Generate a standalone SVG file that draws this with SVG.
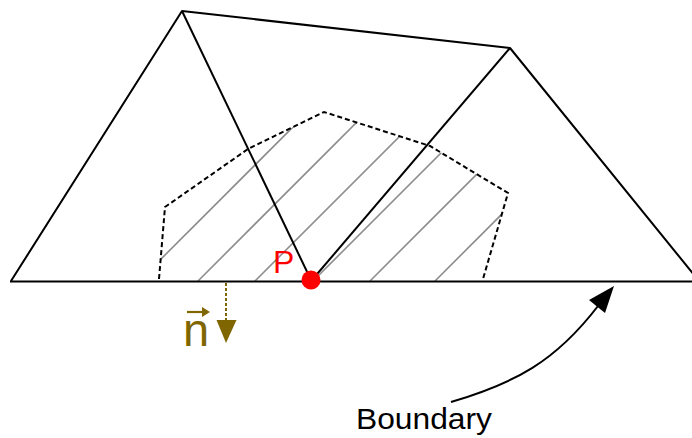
<svg xmlns="http://www.w3.org/2000/svg" width="692" height="438" viewBox="0 0 692 438">
  <style>
    .edge { fill: none; stroke: #000; stroke-width: 2; stroke-linejoin: round; }
    .dash { fill: none; stroke: #000; stroke-width: 2; stroke-dasharray: 5 3; }
    .hatch { stroke: #8c8c8c; stroke-width: 1.6; }
    .olive { fill: #806600; }
    .lbl { font-family: "Liberation Sans", Arial, sans-serif; }
  </style>
  <defs>
    <clipPath id="zone">
      <polygon points="159,281 165,207 248,149 324,112 430,146 508,193 483,281"/>
    </clipPath>
  </defs>
  <rect width="692" height="438" fill="#fff"/>

  <g id="hatch-zone">
    <g clip-path="url(#zone)">
      <line class="hatch" x1="139" y1="281" x2="339" y2="81"/>
      <line class="hatch" x1="198" y1="281" x2="398" y2="81"/>
      <line class="hatch" x1="255" y1="281" x2="455" y2="81"/>
      <line class="hatch" x1="313" y1="281" x2="513" y2="81"/>
      <line class="hatch" x1="370" y1="281" x2="570" y2="81"/>
      <line class="hatch" x1="435" y1="281" x2="635" y2="81"/>
    </g>
    <polyline class="dash" points="159,279 165,207 248,149 324,112 430,146 508,193 483,279"/>
  </g>

  <g id="mesh">
    <line class="edge" x1="10" y1="281.5" x2="692" y2="281.5"/>
    <polyline class="edge" points="11,281 182,11 510,48 699,281"/>
    <line class="edge" x1="182" y1="11" x2="311" y2="280"/>
    <line class="edge" x1="510" y1="48" x2="312" y2="280"/>
  </g>

  <g id="point-P">
    <circle cx="311" cy="280" r="9.5" fill="#ff0000"/>
    <text class="lbl" x="273" y="273" font-size="32" fill="#ff0000">P</text>
  </g>

  <g id="normal-n">
    <line x1="226" y1="283" x2="226" y2="322" stroke="#806600" stroke-width="2" stroke-dasharray="3 2"/>
    <polygon class="olive" points="216.5,320 236.5,320 226,343"/>
    <text class="lbl" x="183" y="346" font-size="47" fill="#806600">n</text>
    <line x1="187" y1="312" x2="204" y2="312" stroke="#806600" stroke-width="2.2"/>
    <polygon class="olive" points="210,312 202,307 202,317"/>
  </g>

  <g id="connectors">
    <path class="edge" d="M451,402 C515,383 555,362 598,306"/>
    <polygon points="614,286 589,300 605,313" fill="#000"/>
  </g>

  <g id="label-boundary">
    <text class="lbl" x="356" y="429" font-size="30" textLength="136" lengthAdjust="spacingAndGlyphs" fill="#000">Boundary</text>
  </g>
</svg>
